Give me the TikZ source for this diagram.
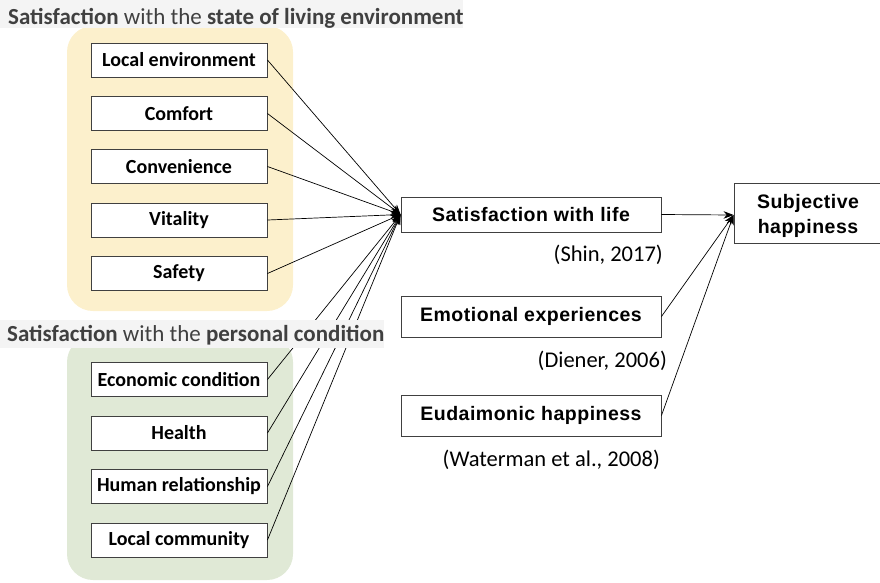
\documentclass[tikz,border=0pt]{standalone}
\usepackage{fontspec}
\setmainfont{Carlito}
\newfontfamily\gothic[LetterSpace=2.5]{Liberation Sans}
\usetikzlibrary{arrows.meta}
\definecolor{ylw}{HTML}{FCF0CC}
\definecolor{grn}{HTML}{E0E9D6}
\definecolor{band}{HTML}{F4F4F4}
\definecolor{ttl}{HTML}{404040}
\definecolor{bord}{HTML}{404040}
\tikzset{
  leftbox/.style={draw=bord, line width=0.9pt, fill=white, minimum width=176pt, minimum height=34pt, inner sep=0pt, font=\fontsize{20}{22}\selectfont\bfseries},
  rightbox/.style={draw=bord, line width=0.9pt, fill=white, minimum width=260pt, inner sep=0pt, font=\gothic\fontsize{19.5}{25}\selectfont\bfseries},
  cite/.style={anchor=base east, inner sep=0pt, font=\fontsize{22.5}{26}\selectfont},
  ttlnode/.style={anchor=base west, inner sep=0pt, text=ttl, font=\fontsize{23}{26}\selectfont},
  conn/.style={draw=black, line width=0.7pt, -{Stealth[length=10pt,width=7.5pt]}},
  region/.style={rounded corners=26pt, draw=none}
}
\begin{document}
\begin{tikzpicture}[x=1pt,y=-1pt]
\useasboundingbox (0,0) rectangle (880,582);
% regions
\fill[region, fill=ylw] (67,26) rectangle (293,311);
\fill[region, fill=grn] (67,336) rectangle (293,580);
% left boxes
\node[leftbox] (le) at (179,60) {Local environment};
\node[leftbox] (co) at (179,113.5) {Comfort};
\node[leftbox] (cv) at (179,166.5) {Convenience};
\node[leftbox] (vi) at (179,220) {Vitality};
\node[leftbox] (sa) at (179,273.5) {Safety};
\node[leftbox] (ec) at (179,379.5) {Economic condition};
\node[leftbox] (he) at (179,433) {Health};
\node[leftbox] (hr) at (179,486.5) {Human relationship};
\node[leftbox] (lc) at (179,540) {Local community};
% right boxes
\node[rightbox, minimum height=35pt] (swl) at (531,214.5) {Satisfaction with life};
\node[rightbox, minimum height=41pt] (emo) at (531,316.5) {Emotional experiences};
\node[rightbox, minimum height=41pt] (eud) at (531,415.5) {Eudaimonic happiness};
\node[draw=bord, line width=0.9pt, fill=white, minimum width=148pt, minimum height=60pt, inner sep=0pt, font=\gothic\fontsize{19.5}{25}\selectfont\bfseries] (subj) at (808,213) {\raisebox{-3pt}[\height][\depth]{\begin{tabular}{@{}c@{}}Subjective\\happiness\end{tabular}}};
% citations
\node[cite] (c1) at (663,261) {(Shin, 2017)};
\node[cite] (c2) at (667,367) {(Diener, 2006)};
\node[cite] (c3) at (660,466) {(Waterman et al., 2008)};
% connectors
\foreach \b in {le,co,cv,vi,sa,ec,he,hr,lc}{
  \draw[conn] (\b.east) -- (swl.west);
}
\coordinate (sin) at ([yshift=-2pt]subj.west);
\draw[conn] (swl.east) -- (sin);
\draw[conn] (emo.east) -- (sin);
\draw[conn] (eud.east) -- (sin);
% titles with bands
\fill[band] (0,0) rectangle (463,28);
\node[ttlnode] (t1) at (8,24) {\textbf{Satisfaction} with the \textbf{state of living environment}};
\fill[band] (0,320) rectangle (384,348);
\node[ttlnode] (t2) at (7,341) {\textbf{Satisfaction} with the \textbf{personal condition}};
\end{tikzpicture}
\end{document}
